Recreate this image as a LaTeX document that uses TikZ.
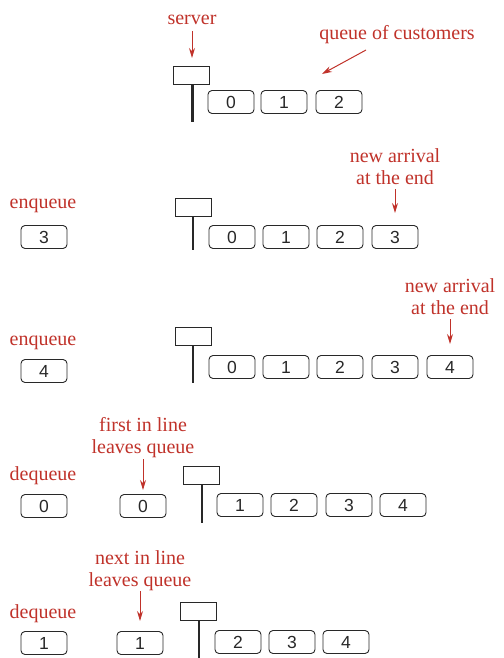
\documentclass[tikz,border=0pt]{standalone}
\usepackage{fontspec}
\setmainfont{Liberation Serif}
\newfontfamily\numfont{Liberation Sans}
\usetikzlibrary{arrows.meta}
\definecolor{lblred}{RGB}{192,50,42}
\definecolor{boxgray}{RGB}{40,40,40}
\tikzset{
  cust/.style={draw=boxgray, line width=0.9pt, rounded corners=4pt, minimum width=46pt, minimum height=23pt, inner sep=0pt, font=\numfont\fontsize{17.5}{17.5}\selectfont, text=boxgray},
  srv/.style={draw=boxgray, line width=0.9pt, minimum width=36pt, minimum height=18pt, inner sep=0pt},
  pole/.style={draw=boxgray, line width=2.6pt},
  lbl/.style={text=lblred, font=\fontsize{20}{22}\selectfont, inner sep=0pt, align=center},
  rarrow/.style={draw=lblred, line width=1pt, -{Stealth[length=10pt,width=6pt]}}
}
\begin{document}
\begin{tikzpicture}[x=1pt,y=-1pt]
\useasboundingbox (0,0) rectangle (503,658);
% ---------- row 1
\node[lbl] (lserver) at (192,20) {server};
\node[srv] (s1) at (191,75) {};
\coordinate (p1) at (192.5,122);
\draw[pole] (s1.south -| p1) -- (p1);
\node[cust] (a0) at (231,102) {0};
\node[cust] (a1) at (284,102) {1};
\node[cust] (a2) at (339,102) {2};
\node[lbl] (lqueue) at (397,35) {queue of customers};
\coordinate (qa) at (366,50);
\coordinate (qb) at (322,74);
\draw[rarrow] (qa) -- (qb);
\coordinate (sa) at (192,31);
\coordinate (sb) at (192,58);
\draw[rarrow] (sa) -- (sb);
% ---------- row 2
\node[lbl] (lenq2) at (43,206) {enqueue};
\node[cust] (e3) at (44,237) {3};
\node[srv] (s2) at (193.5,207) {};
\coordinate (p2) at (193,250);
\draw[pole] (s2.south -| p2) -- (p2);
\node[cust] (b0) at (232,237) {0};
\node[cust] (b1) at (286,237) {1};
\node[cust] (b2) at (340,237) {2};
\node[cust] (b3) at (395,237) {3};
\node[lbl] (lnew2) at (395,167) {new arrival\\at the end};
\coordinate (na2) at (395,189);
\draw[rarrow] (na2) -- (b3.north |- 0,213);
% ---------- row 3
\node[lbl] (lenq3) at (43,343) {enqueue};
\node[cust] (e4) at (44,371) {4};
\node[srv] (s3) at (193.5,336.5) {};
\coordinate (p3) at (193,383);
\draw[pole] (s3.south -| p3) -- (p3);
\node[cust] (c0) at (232,367) {0};
\node[cust] (c1) at (286,367) {1};
\node[cust] (c2) at (340,367) {2};
\node[cust] (c3) at (395,367) {3};
\node[cust] (c4) at (450,367) {4};
\node[lbl] (lnew3) at (450,297) {new arrival\\at the end};
\coordinate (na3) at (450,319);
\draw[rarrow] (na3) -- (c4.north |- 0,344);
% ---------- row 4
\node[lbl] (ldeq4) at (43,476) {dequeue};
\node[cust] (d0) at (44,506) {0};
\node[cust] (m0) at (143,506) {0};
\node[lbl] (lfirst) at (143,438) {first in line\\leaves queue};
\coordinate (fa) at (143,459);
\draw[rarrow] (fa) -- (m0.north |- 0,490);
\node[srv] (s4) at (201,475) {};
\coordinate (p4) at (202,523);
\draw[pole] (s4.south -| p4) -- (p4);
\node[cust] (f1) at (240,505) {1};
\node[cust] (f2) at (294,505) {2};
\node[cust] (f3) at (349,505) {3};
\node[cust] (f4) at (403,505) {4};
% ---------- row 5
\node[lbl] (ldeq5) at (43,614) {dequeue};
\node[cust] (d1) at (44,643) {1};
\node[cust] (m1) at (140,643) {1};
\node[lbl] (lnext) at (140,571) {next in line\\leaves queue};
\coordinate (xa) at (140,591);
\draw[rarrow] (xa) -- (m1.north |- 0,621);
\node[srv] (s5) at (198,611.5) {};
\coordinate (p5) at (199,658);
\draw[pole] (s5.south -| p5) -- (p5);
\node[cust] (g2) at (238,642) {2};
\node[cust] (g3) at (292,642) {3};
\node[cust] (g4) at (346,642) {4};
\end{tikzpicture}
\end{document}
